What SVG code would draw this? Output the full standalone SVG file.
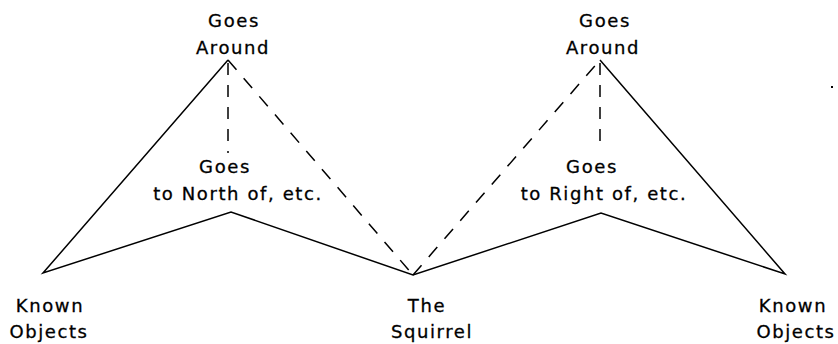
<svg xmlns="http://www.w3.org/2000/svg" width="838" height="344" viewBox="0 0 838 344">
<style>
.t{font-family:"DejaVu Sans",sans-serif;font-size:18px;letter-spacing:1.6px;fill:#000;stroke:#000;stroke-width:0.3;text-anchor:middle}
.s{stroke:#000;stroke-width:1.5;fill:none;stroke-linejoin:miter}
.d{stroke:#000;stroke-width:1.5;fill:none;stroke-dasharray:13 11}
.v{stroke:#000;stroke-width:1.5;fill:none;stroke-dasharray:12 10}
</style>
<rect width="838" height="344" fill="#fff"/>
<g id="connectors">
<polyline class="s" points="228,60 43,273 231,212 413,275 601,213 785,274 600,60"/>
<line class="v" x1="228" y1="63" x2="228" y2="153"/>
<line class="d" x1="228" y1="60" x2="413" y2="275"/>
<line class="v" x1="600" y1="63" x2="600" y2="151"/>
<line class="d" x1="413" y1="275" x2="600" y2="60"/>
</g>
<g id="goes-around-left"><text class="t" x="234" y="27">Goes</text><text class="t" x="233" y="54">Around</text></g>
<g id="goes-north"><text class="t" x="225" y="173">Goes</text><text class="t" x="238" y="200">to North of, etc.</text></g>
<g id="known-left"><text class="t" x="50" y="312">Known</text><text class="t" x="49" y="338">Objects</text></g>
<g id="squirrel"><text class="t" x="427" y="312">The</text><text class="t" x="432" y="338">Squirrel</text></g>
<g id="goes-around-right"><text class="t" x="605" y="27">Goes</text><text class="t" x="603" y="54">Around</text></g>
<g id="goes-right"><text class="t" x="592" y="173">Goes</text><text class="t" x="604" y="200">to Right of, etc.</text></g>
<g id="known-right"><text class="t" x="793" y="312">Known</text><text class="t" x="796" y="338">Objects</text></g>
<rect x="831" y="86" width="2" height="2" fill="#000"/>
</svg>
